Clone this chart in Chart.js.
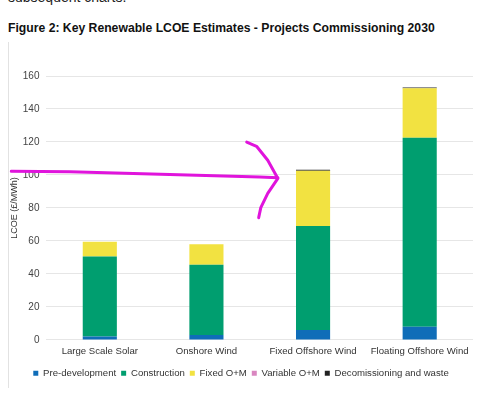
<!DOCTYPE html>
<html>
<head>
<meta charset="utf-8">
<script src="https://cdn.jsdelivr.net/npm/chart.js@4"></script>
<style>
    body { margin: 0; background: #fff; font-family: "Liberation Sans", Arial, sans-serif; }
    #wrap { position: relative; width: 500px; height: 400px; overflow: hidden; }
    #prev { position: absolute; left: 8px; top: -11px; font-size: 14px; color: #222; }
    #fig { position: absolute; left: 8px; top: 21px; font-size: 12.2px; font-weight: bold; color: #111; }
    #frame { position: absolute; left: 8px; top: 42px; width: 1px; height: 346px; background: #e2e2e2; }
    #c { position: absolute; left: 0; top: 0; }
</style>
</head>
<body>
<div id="wrap">
    <div id="prev">subsequent charts.</div>
    <div id="fig">Figure 2: Key Renewable LCOE Estimates - Projects Commissioning 2030</div>
    <div id="frame"></div>
    <canvas id="c" width="500" height="400"></canvas>
</div>
<script>
    // categories and values (£/MWh)
    const categories = ['Large Scale Solar', 'Onshore Wind', 'Fixed Offshore Wind', 'Floating Offshore Wind'];
    const preDevelopment = [2, 3, 6, 8];
    const construction = [48.5, 42.5, 63, 114.5];
    const fixedOM = [9, 12.5, 33.5, 30];
    const variableOM = [0, 0, 0, 0];
    const decommissioning = [0, 0, 0.7, 0.6];

    // hand drawn arrow, in (category index, £/MWh)
    const arrowShaft = [[-0.83, 102.2], [-0.28, 101.9], [0.655, 100.3], [1.5, 98.8], [1.67, 98.3]];
    const arrowHead = [[1.378, 119.9], [1.47, 117.4], [1.575, 108.9], [1.67, 97.9], [1.575, 88.8], [1.51, 80.2], [1.49, 74.1]];

    const arrowPlugin = {
        id: 'arrow',
        afterDraw(chart) {
            const ctx = chart.ctx;
            const xs = chart.scales.x, ys = chart.scales.y;
            ctx.save();
            ctx.strokeStyle = '#e014dc';
            ctx.lineWidth = 3;
            ctx.lineCap = 'round';
            ctx.lineJoin = 'round';
            [arrowShaft, arrowHead].forEach(pts => {
                ctx.beginPath();
                pts.forEach((p, i) => {
                    const px = xs.getPixelForValue(p[0]);
                    const py = ys.getPixelForValue(p[1]);
                    if (i === 0) ctx.moveTo(px, py); else ctx.lineTo(px, py);
                });
                ctx.stroke();
            });
            ctx.restore();
        }
    };

    Chart.defaults.font.family = '"Liberation Sans", Arial, sans-serif';
    Chart.defaults.color = '#444';

    new Chart(document.getElementById('c'), {
        type: 'bar',
        data: {
            labels: categories,
            datasets: [
                { label: 'Pre-development', data: preDevelopment, backgroundColor: '#0f6db8' },
                { label: 'Construction', data: construction, backgroundColor: '#009e6f' },
                { label: 'Fixed O+M', data: fixedOM, backgroundColor: '#f2e241' },
                { label: 'Variable O+M', data: variableOM, backgroundColor: '#d986c0' },
                { label: 'Decomissioning and waste', data: decommissioning, backgroundColor: '#222222' }
            ]
        },
        options: {
            responsive: false,
            animation: false,
            layout: { padding: { left: 9, right: 27, top: 76, bottom: 12 } },
            datasets: { bar: { categoryPercentage: 1, barPercentage: 0.32 } },
            scales: {
                x: {
                    stacked: true,
                    grid: { display: false, drawTicks: false },
                    border: { display: false },
                    ticks: { font: { size: 9.6 }, color: '#333', padding: 6, maxRotation: 0, autoSkip: false }
                },
                y: {
                    stacked: true,
                    min: 0,
                    max: 160,
                    ticks: { stepSize: 20, font: { size: 10 }, padding: 7, color: '#444' },
                    grid: { color: '#e6e6e6', drawTicks: false },
                    border: { display: false },
                    title: { display: true, text: 'LCOE (£/MWh)', font: { size: 9 }, color: '#333', padding: { top: 0, bottom: -4 } }
                }
            },
            plugins: {
                legend: {
                    position: 'bottom',
                    labels: { boxWidth: 5, boxHeight: 5, padding: 5, font: { size: 9.6 }, color: '#333' }
                },
                tooltip: { enabled: false }
            }
        },
        plugins: [arrowPlugin]
    });
</script>
</body>
</html>
